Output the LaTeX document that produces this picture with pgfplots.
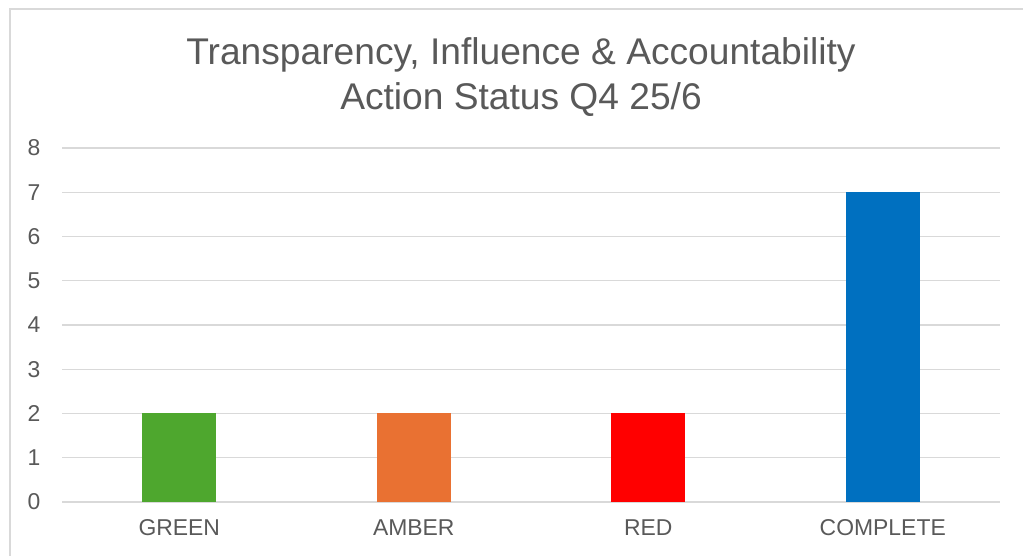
\documentclass[border=0pt]{standalone}
\usepackage{fontspec}
\setmainfont{Liberation Sans}
\usepackage{pgfplots}
\pgfplotsset{compat=1.18}
\definecolor{txtgray}{RGB}{89,89,89}
\definecolor{gridgray}{RGB}{217,217,217}
\definecolor{cgreen}{RGB}{78,167,46}
\definecolor{camber}{RGB}{233,113,50}
\definecolor{cred}{RGB}{255,0,0}
\definecolor{cblue}{RGB}{0,112,192}
\begin{document}
\begin{tikzpicture}[x=1bp,y=1bp]
\path[use as bounding box] (0,0) rectangle (1023,556);
% chart frame (cut off right and bottom)
\draw[gridgray, line width=1.5bp] (10,-5) -- (10,547) -- (1030,547);
% title
\node[anchor=base, txtgray, font=\fontsize{37.3}{45}\selectfont] at (521,491) {Transparency, Influence \& Accountability};
\node[anchor=base, txtgray, font=\fontsize{37.3}{45}\selectfont] at (521,446) {Action Status Q4 25/6};
\coordinate (origin) at (62,54);
\begin{axis}[
  at={(origin)}, anchor=south west,
  scale only axis, width=938bp, height=354bp,
  xmin=-0.5, xmax=3.5, ymin=0, ymax=8,
  ybar, bar width=74bp,
  axis line style={draw=none},
  ymajorgrids, grid style={gridgray, line width=1.2bp},
  xtick={0,1,2,3},
  xticklabels={GREEN,AMBER,RED,COMPLETE},
  ytick={0,1,...,8},
  major tick length=0pt,
  tick label style={txtgray, font=\fontsize{23}{27}\selectfont},
  /pgf/number format/assume math mode=true,
  xticklabel style={yshift=-14bp},
  yticklabel style={xshift=-18bp},
  clip=false,
]
\addplot[fill=cgreen, draw=none, bar shift=0pt] coordinates {(0,2)};
\addplot[fill=camber, draw=none, bar shift=0pt] coordinates {(1,2)};
\addplot[fill=cred, draw=none, bar shift=0pt] coordinates {(2,2)};
\addplot[fill=cblue, draw=none, bar shift=0pt] coordinates {(3,7)};
\end{axis}
\end{tikzpicture}
\end{document}
